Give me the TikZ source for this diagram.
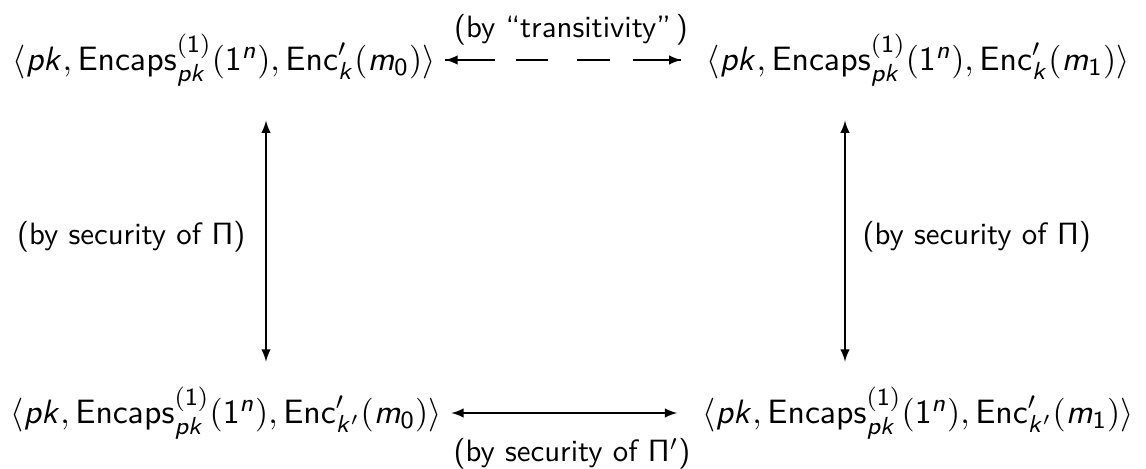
\documentclass[tikz,border=0pt]{standalone}
\usepackage{amsmath,amssymb}
\usepackage{tikz}
\usetikzlibrary{arrows,positioning,calc}

% sans serif math, slanted letters
\DeclareMathAlphabet{\mathsfit}{OT1}{cmss}{m}{sl}
\newcommand{\pkey}{\mathsfit{pk}}
\newcommand{\hyb}[2]{$\langle \pkey, \mathsf{Encaps}^{\mathsf{(1)}}_{\pkey}(\mathsf{1}^{\mathsfit{n}}), \mathsf{Enc}'_{#1}(\mathsfit{m}_{\mathsf{#2}})\rangle$}

\tikzset{
  game/.style={inner sep=3pt, font=\sffamily\fontsize{10.95}{13.6}\selectfont},
  reason/.style={inner sep=3pt, font=\sffamily},
  hop/.style={dash pattern=on 16pt off 7pt on 10.4pt off 9.5pt on 10.4pt off 7.5pt on 40pt},
}

\begin{document}
\begin{tikzpicture}[x=0.0114cm, y=-0.0114cm]
        \useasboundingbox (0,0) rectangle (1146,469);
        % vier Hybride
        \node[game] (h00) at (224,60) {\hyb{\mathsfit{k}}{0}};
        \node[game] (h01) at (918,60) {\hyb{\mathsfit{k}}{1}};
        \node[game] (h10) at (226,413) {\hyb{\mathsfit{k}'}{0}};
        \node[game] (h11) at (918,413) {\hyb{\mathsfit{k}'}{1}};
        \coordinate (lv) at (266,0);
        \coordinate (rv) at (845,0);

        \draw[hop, shorten >=5pt] (h00) -- node[reason, above=1.5pt] {(by ``transitivity''\,)} (h01);
        \draw[-latex] ($(h00.east)+(20,0)$) -- (h00.east);
        \draw[-latex, shorten >=5pt] ($(h01.west)+(-40,0)$) -- (h01.west);
        \draw[latex-latex, shorten >=5pt] (h10) -- node[reason, below=5pt] {(by security of $\mathsf{\Pi}'$)} (h11);
        \draw[latex-latex, shorten <=8pt, shorten >=5pt] (h00.south -| lv) -- node[reason, left=3.5pt] {(by security of $\mathsf{\Pi}$)} (h10.north -| lv);
        \draw[latex-latex, shorten <=8pt, shorten >=5pt] (h01.south -| rv) -- node[reason, right=2.5pt] {(by security of $\mathsf{\Pi}$)} (h11.north -| rv);
    \end{tikzpicture}
\end{document}
